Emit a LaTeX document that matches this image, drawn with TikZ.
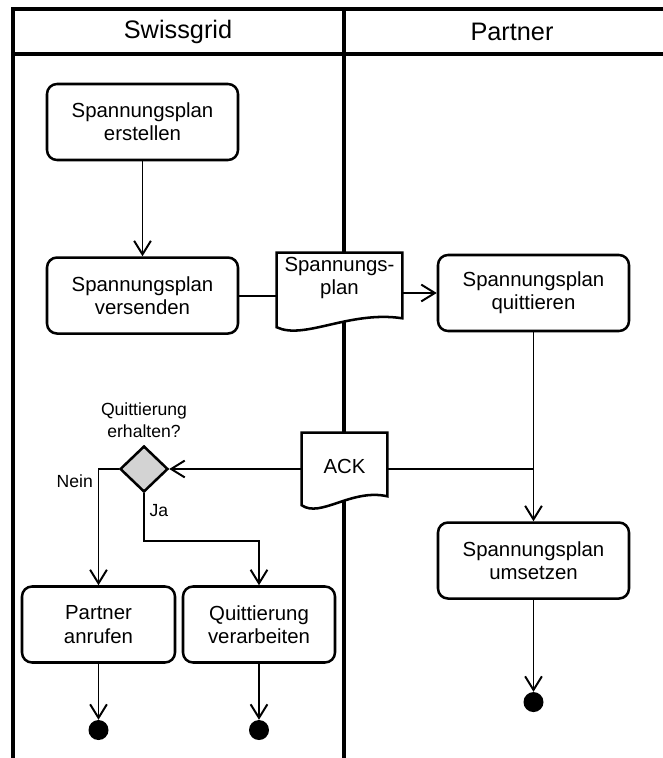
\documentclass[tikz,border=0pt]{standalone}
\usepackage{fontspec}
\setmainfont{Liberation Sans}
\usetikzlibrary{arrows.meta,positioning,shapes.geometric,calc,backgrounds}
\definecolor{diagray}{RGB}{211,211,211}

% outline of a document symbol (wavy bottom), #1 = how far the sides reach below the node
\newcommand{\docpath}[2]{([yshift=-#1cm]#2.south west) -- (#2.north west) -- (#2.north east)
  -- ([yshift={0.225cm-#1cm}]#2.south east)
  .. controls ($(#2.south east)!0.42!(#2.south west)+(0cm,{(0.425-#1)*1cm})$)
  and ($(#2.south east)!0.78!(#2.south west)+(0cm,{(-0.325-#1)*1cm})$)
  .. ([yshift=-#1cm]#2.south west) -- cycle}
\newcommand{\docoutline}[2][0.2]{%
  \begin{scope}[on background layer]
    \fill[white] \docpath{#1}{#2};
  \end{scope}
  \draw[line width=1.8pt] \docpath{#1}{#2};}

\begin{document}
\begin{tikzpicture}[>={Straight Barb[length=3.4mm,width=4.2mm]}, node distance=1cm]
\tikzset{
  act/.style={draw, line width=1.8pt, rounded corners=2.5mm, align=center, minimum width=4.775cm, minimum height=1.9cm, font=\fontsize{14.5}{16.5}\selectfont},
  doc/.style={align=center, inner sep=0pt, font=\fontsize{14.5}{16.5}\selectfont},
  dec/.style={diamond, draw, line width=1.8pt, fill=diagray, minimum width=1.2cm, minimum height=1.15cm, inner sep=0pt},
  fin/.style={circle, fill=black, minimum size=0.5cm, inner sep=0pt},
  flow/.style={->, line width=1.4pt},
  lane/.style={line width=2.4pt},
  lbl/.style={align=center, font=\fontsize{12.5}{15.5}\selectfont},
  head/.style={font=\fontsize{18}{21}\selectfont}
}
\useasboundingbox (0,0) rectangle (16.575,18.95);

% swimlanes
\begin{scope}[on background layer]
\draw[lane] (0.325,0) -- (0.325,18.725) -- (16.575,18.725);
\draw[lane] (0.325,17.6) -- (16.575,17.6);
\draw[lane, line width=2.8pt] (8.6,0) -- (8.6,18.725);
\end{scope}
\node[head] (hswiss) at (4.45,18.16) {Swissgrid};
\node[head] (hpartner) at (12.8,18.16) {Partner};

% Swissgrid
\node[act] (erst) at (3.5625,15.9) {Spannungsplan\\erstellen};
\node[act, below=2.375cm of erst] (vers) {Spannungsplan\\versenden};
\node[dec] (dec) at (3.6,7.225) {};
\node[lbl, above=0.05cm of dec] (qlab) {Quittierung\\erhalten?};
\node[act, minimum width=3.825cm] (anruf) at (2.4625,3.3375) {Partner\\anrufen};
\node[act, minimum width=3.8cm] (verarb) at (6.475,3.3375) {Quittierung\\verarbeiten};
\node[fin, below=1.4cm of anruf] (end1) {};
\node[fin, below=1.4cm of verarb] (end2) {};

% documents on the lane border
\node[doc, minimum width=3.125cm, minimum height=1.25cm] (plan) at (8.4875,12.0) {Spannungs-\\plan};
\docoutline[0.6]{plan}
\node[doc, minimum width=2.125cm, minimum height=1.65cm] (ack) at (8.6125,7.3) {ACK};
\docoutline[0.15]{ack}

% Partner
\node[act] (quit) at (13.3375,11.625) {Spannungsplan\\quittieren};
\node[act, below=4.725cm of quit] (umse) {Spannungsplan\\umsetzen};
\node[fin, below=2.3cm of umse] (end3) {};

\draw[flow] (erst) -- (vers);
\draw[line width=1.4pt] (vers.east) -- (vers.east -| plan.west);
\draw[flow] (plan.east |- quit.west) -- (quit.west);
\draw[flow] (quit) -- (umse);
\draw[line width=1.4pt] (quit.south |- dec.east) -- (ack.east |- dec.east);
\draw[flow] (ack.west |- dec.east) -- (dec.east);
\draw[flow] (umse) -- (end3);
\draw[flow] (dec.west) -| node[lbl, pos=0.5, below left] {Nein} (anruf.north);
\coordinate (jaknick) at ($(dec.south)+(0,-1.2)$);
\draw[flow] (dec.south) -- node[lbl, right, pos=0.35] {Ja} (jaknick) -| (verarb.north);
\draw[flow] (anruf) -- (end1);
\draw[flow] (verarb) -- (end2);
\end{tikzpicture}
\end{document}
